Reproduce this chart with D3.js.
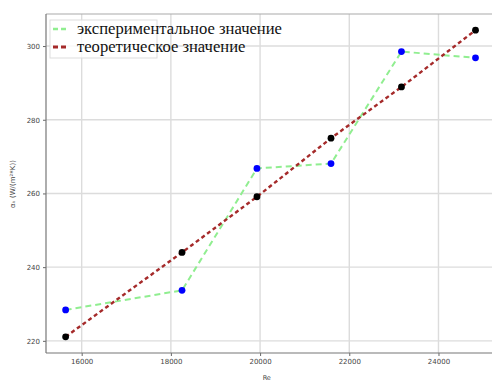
<!DOCTYPE html>
<html>
<head>
<meta charset="utf-8">
<script src="https://cdn.jsdelivr.net/npm/d3@7"></script>
<style>
  html, body { margin: 0; padding: 0; background: #fff; }
  svg { display: block; }
</style>
</head>
<body>
<svg id="chart" width="492" height="383"></svg>
<script>
// Reynolds numbers and heat transfer coefficients
const reynolds = [15640, 18250, 19930, 21590, 23170, 24830];
const experimental = [228.4, 233.7, 266.8, 268.1, 298.5, 296.8];
const theoretical = [221.1, 244.0, 259.1, 275.0, 288.9, 304.3];
const xTicks = [16000, 18000, 20000, 22000, 24000];
const yTicks = [220, 240, 260, 280, 300];
const legendLabels = ["экспериментальное значение", "теоретическое значение"];
const xLabel = "Re";
const yLabel = "αₖ (W/(m²*K))";

(function draw() {
  const svg = d3.select("#chart");
  const pl = 46, pr = 492, pt = 14, pb = 353;

  const x = d3.scaleLinear().domain([15200, 25200]).range([pl, pr]);
  const y = d3.scaleLinear().domain([216.7, 308.7]).range([pb, pt]);

  // grid
  const grid = svg.append("g");
  grid.selectAll("line.vx").data(xTicks).join("line")
    .attr("x1", d => x(d)).attr("x2", d => x(d))
    .attr("y1", pt).attr("y2", pb)
    .attr("stroke", "#dcdcdc").attr("stroke-width", 1.4);
  grid.selectAll("line.hy").data(yTicks).join("line")
    .attr("x1", pl).attr("x2", pr)
    .attr("y1", d => y(d)).attr("y2", d => y(d))
    .attr("stroke", "#dcdcdc").attr("stroke-width", 1.4);

  // axes
  const xAxis = d3.axisBottom(x).tickValues(xTicks).tickSize(3).tickPadding(3).tickFormat(d3.format("d"));
  const yAxis = d3.axisLeft(y).tickValues(yTicks).tickSize(3).tickPadding(3).tickFormat(d3.format("d"));

  const gx = svg.append("g").attr("transform", `translate(0,${pb})`).call(xAxis);
  const gy = svg.append("g").attr("transform", `translate(${pl},0)`).call(yAxis);
  [gx, gy].forEach(g => {
    g.select(".domain").remove();
    g.selectAll(".tick line").attr("stroke", "#666");
    g.selectAll(".tick text")
      .attr("fill", "#444")
      .style("font-family", "DejaVu Sans")
      .style("font-size", "7px");
  });

  // spines
  svg.append("line").attr("x1", pl).attr("x2", pr).attr("y1", pt).attr("y2", pt)
    .attr("stroke", "#aaa").attr("stroke-width", 1.2);
  svg.append("line").attr("x1", pl).attr("x2", pr).attr("y1", pb).attr("y2", pb)
    .attr("stroke", "#777").attr("stroke-width", 1.2);
  svg.append("line").attr("x1", pl).attr("x2", pl).attr("y1", pt).attr("y2", pb)
    .attr("stroke", "#777").attr("stroke-width", 1.2);

  // axis labels
  svg.append("text").attr("x", x(20150)).attr("y", 380)
    .attr("text-anchor", "middle")
    .style("font-family", "DejaVu Sans").style("font-size", "6.5px").attr("fill", "#444")
    .text(xLabel);
  svg.append("text")
    .attr("transform", "translate(15,184) rotate(-90)")
    .attr("text-anchor", "middle")
    .style("font-family", "DejaVu Sans").style("font-size", "7px").attr("fill", "#444")
    .text(yLabel);

  // series
  const line = d3.line().x(d => x(d[0])).y(d => y(d[1]));
  const expPts = reynolds.map((r, i) => [r, experimental[i]]);
  const theoPts = reynolds.map((r, i) => [r, theoretical[i]]);

  svg.append("path").datum(expPts).attr("d", line)
    .attr("fill", "none").attr("stroke", "#90ee90").attr("stroke-width", 2)
    .attr("stroke-dasharray", "6,4");

  svg.selectAll("circle.exp").data(expPts).join("circle")
    .attr("class", "exp")
    .attr("cx", d => x(d[0])).attr("cy", d => y(d[1])).attr("r", 3.4)
    .attr("fill", "#0000ff");

  svg.append("path").datum(theoPts).attr("d", line)
    .attr("fill", "none").attr("stroke", "#a52a2a").attr("stroke-width", 2.4)
    .attr("stroke-dasharray", "4,3");

  svg.selectAll("circle.theo").data(theoPts).join("circle")
    .attr("class", "theo")
    .attr("cx", d => x(d[0])).attr("cy", d => y(d[1])).attr("r", 3.4)
    .attr("fill", "#000");

  // legend
  const lg = svg.append("g");
  lg.append("rect").attr("x", 50).attr("y", 20).attr("width", 107).attr("height", 38)
    .attr("fill", "#fff").attr("fill-opacity", 0.8)
    .attr("stroke", "#ddd").attr("stroke-width", 1);
  const legendColors = ["#90ee90", "#a52a2a"];
  const legendW = [2, 2.4];
  legendLabels.forEach((lab, i) => {
    const yy = 29 + i * 18;
    lg.append("line").attr("x1", 53).attr("x2", 69).attr("y1", yy).attr("y2", yy)
      .attr("stroke", legendColors[i]).attr("stroke-width", legendW[i] + 0.4)
      .attr("stroke-dasharray", "5,3");
    lg.append("text").attr("x", 77).attr("y", yy + 5)
      .style("font-family", "Liberation Serif").style("font-size", "16.6px")
      .attr("fill", "#111").text(lab);
  });
})();
</script>
</body>
</html>
